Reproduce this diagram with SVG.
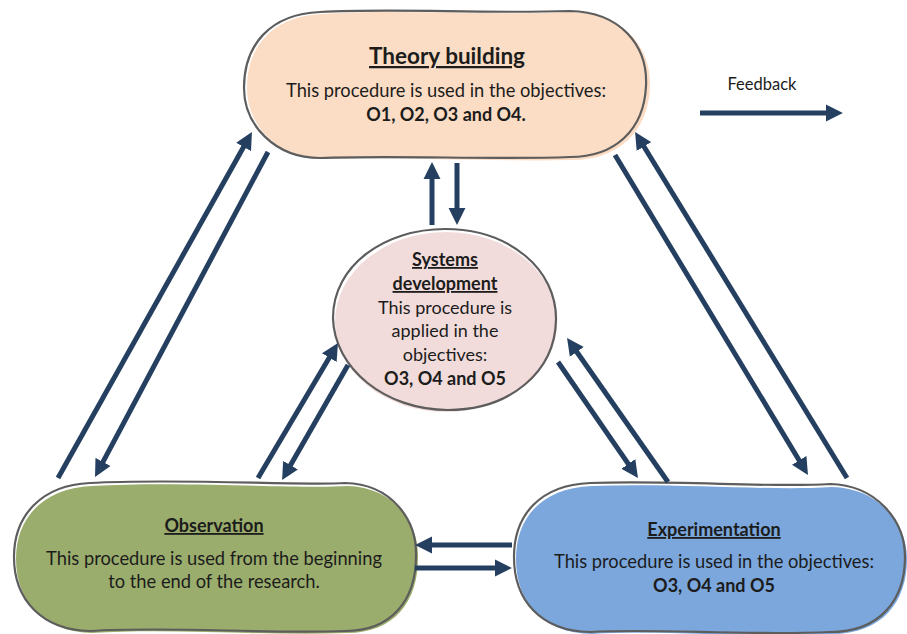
<svg xmlns="http://www.w3.org/2000/svg" width="907" height="634" viewBox="0 0 907 634">
  <style>
    .outline { stroke: #5d5d5d; stroke-width: 2.2; fill: none; }
    .txt { font-family: Lato, "Open Sans", "Liberation Sans", sans-serif; font-size: 18.3px; fill: #1c1c1c; text-anchor: middle; }
    .ttl { font-weight: bold; font-size: 18px; text-decoration: underline; }
    .b { font-weight: bold; font-size: 18px; }
    .arrow { stroke: #243f60; stroke-width: 5; fill: none; marker-end: url(#head); }
  </style>
  <defs>
    <marker id="head" viewBox="0 0 10 10" refX="3" refY="5" markerUnits="userSpaceOnUse" markerWidth="17" markerHeight="18" orient="auto">
      <path d="M0,0 L10,5 L0,10 Z" fill="#243f60"/>
    </marker>
  </defs>

  <rect width="907" height="634" fill="#ffffff"/>

  <!-- Theory building -->
  <g id="theory">
    <path d="M322,14 C400,9 490,16 572,12 C625,14 652,48 650,88 C648,132 618,160 572,160 C490,162 400,156 322,159 C278,158 247,126 247,88 C247,46 273,16 322,14 Z" fill="#fbdcc4"/>
    <path class="outline" d="M320,12 C400,8 480,14 570,11 C620,12 648,45 646,86 C644,130 615,157 570,157 C490,160 400,155 320,158 C275,158 244,125 244,88 C244,45 270,14 320,12 Z"/>
    <text class="txt ttl" x="447" y="64" style="font-size:22.5px">Theory building</text>
    <text class="txt" x="446" y="97">This procedure is used in the objectives:</text>
    <text class="txt b" x="446" y="121">O1, O2, O3 and O4.</text>
  </g>

  <!-- Systems development -->
  <g id="systems">
    <ellipse cx="446" cy="322" rx="111" ry="90" fill="#f2dcdb"/>
    <path class="outline" d="M333,318 C333,265 385,229 445,229 C510,229 557,270 556,320 C555,372 510,410 448,410 C385,410 334,368 333,318 Z"/>
    <text class="txt ttl" x="445" y="266">Systems</text>
    <text class="txt ttl" x="445" y="290">development</text>
    <text class="txt" x="445" y="314" style="font-size:18px">This procedure is</text>
    <text class="txt" x="445" y="337" style="font-size:18px">applied in the</text>
    <text class="txt" x="445" y="361" style="font-size:18px">objectives:</text>
    <text class="txt b" x="445" y="385">O3, O4 and O5</text>
  </g>

  <!-- Observation -->
  <g id="observation">
    <path d="M92,486 C180,481 300,489 347,486 C394,487 419,522 418,558 C418,602 394,633 347,633 C262,636 172,628 92,633 C44,632 16,602 16,559 C16,517 44,488 92,486 Z" fill="#9bad6c"/>
    <path class="outline" d="M90,483 C180,478 300,486 345,483 C392,484 417,520 416,556 C416,600 392,631 345,631 C260,634 170,626 90,631 C42,630 14,600 14,557 C14,515 42,485 90,483 Z"/>
    <text class="txt ttl" x="214" y="532">Observation</text>
    <text class="txt" x="214" y="565">This procedure is used from the beginning</text>
    <text class="txt" x="214" y="588">to the end of the research.</text>
  </g>

  <!-- Experimentation -->
  <g id="experimentation">
    <path d="M592,486 C680,483 770,491 832,487 C878,488 907,522 907,559 C907,602 882,634 832,634 C742,638 662,630 592,634 C542,633 516,602 516,559 C516,517 542,488 592,486 Z" fill="#7ba7dc"/>
    <path class="outline" d="M590,483 C680,480 770,488 830,484 C876,485 905,520 905,557 C905,600 880,632 830,632 C740,636 660,628 590,632 C540,631 514,600 514,557 C514,515 540,485 590,483 Z"/>
    <text class="txt ttl" x="714" y="536">Experimentation</text>
    <text class="txt" x="714" y="568">This procedure is used in the objectives:</text>
    <text class="txt b" x="714" y="592">O3, O4 and O5</text>
  </g>

  <!-- Legend -->
  <g id="legend">
    <text class="txt" x="762" y="90" style="font-size:16.5px" fill="#222">Feedback</text>
    <line class="arrow" x1="700" y1="113" x2="831" y2="113"/>
  </g>

  <!-- Connectors -->
  <g id="connectors">
    <line class="arrow" x1="58" y1="478" x2="246.1" y2="142.5"/>
    <line class="arrow" x1="268" y1="152" x2="100.6" y2="466.4"/>
    <line class="arrow" x1="615" y1="155" x2="801.8" y2="464.7"/>
    <line class="arrow" x1="847" y1="478" x2="641.3" y2="142.2"/>
    <line class="arrow" x1="258" y1="478" x2="331.9" y2="353.3"/>
    <line class="arrow" x1="348" y1="365" x2="288" y2="469.6"/>
    <line class="arrow" x1="558" y1="362" x2="631.2" y2="468.1"/>
    <line class="arrow" x1="668" y1="482" x2="573.9" y2="347.8"/>
    <line class="arrow" x1="432" y1="225" x2="432" y2="174"/>
    <line class="arrow" x1="457" y1="163" x2="457" y2="213"/>
    <line class="arrow" x1="512" y1="545" x2="427" y2="545"/>
    <line class="arrow" x1="415" y1="568" x2="500" y2="568"/>
  </g>
</svg>
